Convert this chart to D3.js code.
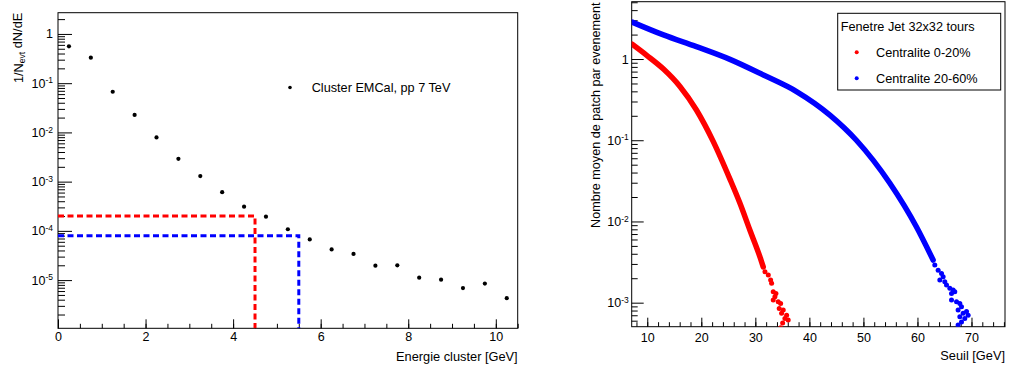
<!DOCTYPE html>
<html><head><meta charset="utf-8">
<script src="https://cdn.jsdelivr.net/npm/d3@7"></script>
<style>
body{margin:0;background:#fff}
svg{display:block}
text{font-family:"Liberation Sans",Arial,Helvetica,sans-serif;fill:#000}
</style>
</head><body>
<svg id="c" width="1011" height="365"></svg>
<script>
// ---------- Left panel data ----------
const clusterEnergy = [0.25,0.75,1.25,1.75,2.25,2.75,3.25,3.75,4.25,4.75,5.25,5.75,6.25,6.75,7.25,7.75,8.25,8.75,9.25,9.75,10.25];
const clusterRate   = [0.56,0.33,0.067,0.0226,0.0079,0.0029,0.0013,6.1e-4,3.1e-4,1.94e-4,1.08e-4,6.7e-5,4.2e-5,3.4e-5,1.96e-5,2.0e-5,1.12e-5,1.02e-5,6.9e-6,8.5e-6,4.3e-6];
const thresholdEnergy = [4.5, 5.5];
const thresholdRate   = [2.0e-4, 8.0e-5];
const leftLegend = "Cluster EMCal, pp 7 TeV";
const leftXTicks = [0,2,4,6,8,10];
const leftYTicks = [1,1e-1,1e-2,1e-3,1e-4,1e-5];
const leftXTitle = "Energie cluster [GeV]";

// ---------- Right panel data ----------
const seuilRed = [7.2,9.9,13.0,16.05,19.1,22.2,25.3,27.1,29.0,30.85,31.46];
const rateRed  = [1.52,1.11,0.753,0.46,0.236,0.0968,0.0332,0.0171,7.8e-3,3.67e-3,2.76e-3];
const tailSeuilRed = [31.78,32.4,32.83,33.01,33.31,33.81,33.62,33.31,34.23,34.68,34.42,35.16,34.86,35.79,35.47,36.08,35.05,34.68];
const tailRateRed  = [2.4e-3,2.19e-3,1.9e-3,1.73e-3,1.36e-3,1.3e-3,1.18e-3,1.08e-3,1.03e-3,9.8e-4,8.5e-4,8.1e-4,7.4e-4,7.0e-4,6.4e-4,6.1e-4,5.6e-4,4.9e-4];
const seuilBlue = [7.2,13.0,19.1,25.3,31.5,37.7,43.8,48.7,54.9,59.8,62.9];
const rateBlue  = [2.85,1.98,1.42,0.99,0.635,0.395,0.204,0.1,0.0295,8.6e-3,3.35e-3];
const tailSeuilBlue = [63.21,63.83,64.45,64.75,64.14,65.06,65.38,65.99,66.6,66.3,66.91,66.3,67.23,67.84,68.15,67.52,69.08,68.45,67.84,68.76,68.15,69.38,67.52];
const tailRateBlue  = [2.9e-3,2.5e-3,2.29e-3,2.09e-3,1.9e-3,1.81e-3,1.65e-3,1.5e-3,1.43e-3,1.3e-3,1.36e-3,1.08e-3,1.03e-3,9.8e-4,8.9e-4,8.1e-4,7.8e-4,7.4e-4,6.7e-4,6.4e-4,5.8e-4,7.0e-4,5.3e-4];
const rightLegendTitle = "Fenetre Jet 32x32 tours";
const seriesNames = ["Centralite 0-20%","Centralite 20-60%"];
const rightXTicks = [10,20,30,40,50,60,70];
const rightYTicks = [1,1e-1,1e-2,1e-3];
const rightXTitle = "Seuil [GeV]";
const rightYTitle = "Nombre moyen de patch par evenement";

// ---------- styles ----------
const RED = "#ff0000", BLUE = "#0000ff";
const svg = d3.select("#c");

function minorLogTicks(domain){
  const [a,b] = domain.slice().sort((x,y)=>x-y);
  const out=[];
  for(let e=Math.floor(Math.log10(a)); e<=Math.ceil(Math.log10(b)); e++){
    for(let k=2;k<=9;k++){ const v=k*Math.pow(10,e); if(v>=a&&v<=b) out.push(v); }
  }
  return out;
}
function minorLinTicks(domain, step){
  const out=[]; const s=Math.ceil(domain[0]/step);
  for(let i=s; i*step<=domain[1]+1e-9; i++) out.push(+(i*step).toFixed(6));
  return out;
}
function powLabel(sel){
  sel.each(function(d){
    const t=d3.select(this); t.text(null);
    if(d===1){ t.text("1"); return; }
    const e=Math.round(Math.log10(d));
    t.append("tspan").text("10");
    t.append("tspan").attr("dy","-0.5em").attr("font-size","8.5px").text(String(e));
  });
}

function panel(cfg){
  const g = svg.append("g");
  const x = d3.scaleLinear().domain(cfg.xDomain).range([cfg.L,cfg.R]);
  const y = d3.scaleLog().domain(cfg.yDomain).range([cfg.B,cfg.T]);
  g.append("g").attr("transform",`translate(${cfg.L},0)`)
    .call(d3.axisLeft(y).tickValues(minorLogTicks(cfg.yDomain)).tickSize(-cfg.yMinor).tickFormat(""))
    .call(s=>s.select(".domain").remove());
  const ya = g.append("g").attr("transform",`translate(${cfg.L},0)`)
    .call(d3.axisLeft(y).tickValues(cfg.yTicks).tickSize(-cfg.yMajor).tickPadding(cfg.yPad).tickFormat(d=>d))
    .call(s=>s.select(".domain").remove());
  ya.selectAll("text").attr("font-size","12.5px").attr("font-family","Liberation Sans, Arial, sans-serif").call(powLabel);
  g.append("g").attr("transform",`translate(0,${cfg.B})`)
    .call(d3.axisBottom(x).tickValues(minorLinTicks(cfg.xDomain,cfg.xMinorStep)).tickSize(-cfg.xMinor).tickFormat(""))
    .call(s=>s.select(".domain").remove());
  const xa = g.append("g").attr("transform",`translate(0,${cfg.B})`)
    .call(d3.axisBottom(x).tickValues(cfg.xTicks).tickSize(-cfg.xMajor).tickPadding(cfg.xPad).tickFormat(d3.format("d")))
    .call(s=>s.select(".domain").remove());
  xa.selectAll("text").attr("font-size","12.5px").attr("font-family","Liberation Sans, Arial, sans-serif");
  g.selectAll(".tick line").attr("stroke","#000").attr("stroke-width",1);
  g.append("rect").attr("x",cfg.L).attr("y",cfg.T).attr("width",cfg.R-cfg.L).attr("height",cfg.B-cfg.T)
    .attr("fill","none").attr("stroke","#000").attr("stroke-width",1);
  const id="clip"+cfg.id;
  svg.append("clipPath").attr("id",id).append("rect")
    .attr("x",cfg.L).attr("y",cfg.T).attr("width",cfg.R-cfg.L).attr("height",cfg.B-cfg.T);
  const plot = svg.append("g").attr("clip-path",`url(#${id})`);
  svg.append("text").attr("x",cfg.R).attr("y",cfg.xTitleY).attr("text-anchor","end")
    .attr("font-size","12.8px").text(cfg.xTitle);
  return {x,y,plot};
}

// ---------- Left panel ----------
const P1 = panel({id:1,L:58,R:517.7,T:12.7,B:328.3,xDomain:[0,10.5],yDomain:[1.05e-6,2.7],
  xTicks:leftXTicks,yTicks:leftYTicks,yMajor:14,yMinor:7,xMajor:9,xMinor:4.5,xMinorStep:0.5,
  yPad:5,xPad:4,xTitle:leftXTitle,xTitleY:361});

const dash = "6,3.5";
thresholdEnergy.forEach((e,i)=>{
  const col = i===0?RED:BLUE;
  P1.plot.append("path")
    .attr("d", d3.line()([[P1.x(0),P1.y(thresholdRate[i])],[P1.x(e),P1.y(thresholdRate[i])],[P1.x(e),P1.y.range()[0]]]))
    .attr("fill","none").attr("stroke",col).attr("stroke-width",3).attr("stroke-dasharray",dash);
});
P1.plot.selectAll("circle.pt").data(clusterEnergy).join("circle")
  .attr("cx",d=>P1.x(d)).attr("cy",(d,i)=>P1.y(clusterRate[i])).attr("r",2.1).attr("fill","#000");

{
  const t = svg.append("text").attr("transform","translate(22.5,12.7) rotate(-90)")
    .attr("text-anchor","end").attr("font-size","12.8px");
  t.append("tspan").text("1/N");
  t.append("tspan").attr("font-size","8.5px").attr("dy","0.35em").text("evt");
  t.append("tspan").attr("dy","-0.25em").text(" dN/dE");
}
svg.append("circle").attr("cx",290).attr("cy",87.5).attr("r",1.8).attr("fill","#000");
svg.append("text").attr("x",311.7).attr("y",92).attr("font-size","12.7px").text(leftLegend);

// ---------- Right panel ----------
const P2 = panel({id:2,L:631.7,R:1005,T:1.7,B:326.7,xDomain:[7.12,76.2],yDomain:[5.06e-4,5.08],
  xTicks:rightXTicks,yTicks:rightYTicks,yMajor:12,yMinor:6,xMajor:9,xMinor:4.5,xMinorStep:2,
  yPad:3,xPad:6,xTitle:rightXTitle,xTitleY:359.5});

const lineGen = d3.line().x(d=>P2.x(d[0])).y(d=>P2.y(d[1])).curve(d3.curveMonotoneX);
[[seuilRed,rateRed,tailSeuilRed,tailRateRed,RED],[seuilBlue,rateBlue,tailSeuilBlue,tailRateBlue,BLUE]]
.forEach(([sx,sy,tx,ty,col])=>{
  P2.plot.append("path").attr("d",lineGen(sx.map((v,i)=>[v,sy[i]])))
    .attr("fill","none").attr("stroke",col).attr("stroke-width",5.5).attr("stroke-linecap","round");
  P2.plot.append("g").selectAll("circle").data(tx).join("circle")
    .attr("cx",d=>P2.x(d)).attr("cy",(d,i)=>P2.y(ty[i])).attr("r",2.5).attr("fill",col);
});

svg.append("text").attr("transform","translate(600,2.5) rotate(-90)").attr("text-anchor","end")
  .attr("font-size","12.6px").text(rightYTitle);

svg.append("rect").attr("x",837.7).attr("y",13.3).attr("width",163).attr("height",76.7)
  .attr("fill","#fff").attr("stroke","#000").attr("stroke-width",1);
svg.append("text").attr("x",840.7).attr("y",31).attr("font-size","12.7px").text(rightLegendTitle);
seriesNames.forEach((n,i)=>{
  const cy = 52.3 + i*26;
  svg.append("circle").attr("cx",856.7).attr("cy",cy).attr("r",2).attr("fill",i===0?RED:BLUE);
  svg.append("text").attr("x",876).attr("y",cy+4.6).attr("font-size","12.7px").text(n);
});
</script>
</body></html>
